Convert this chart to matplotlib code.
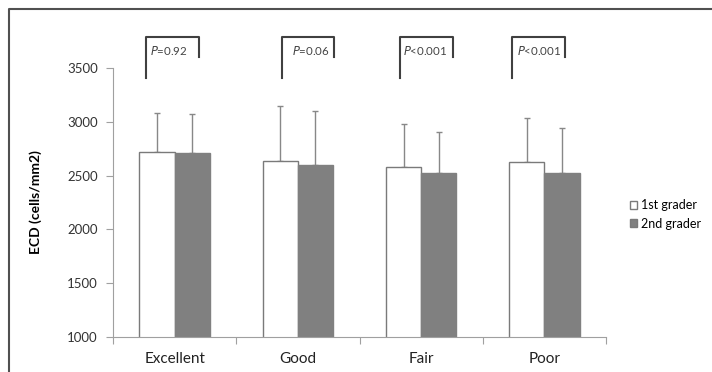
import matplotlib
matplotlib.use("Agg")
import matplotlib.pyplot as plt
from matplotlib.lines import Line2D
import numpy as np

plt.rcParams['font.family'] = ['Lato', 'DejaVu Sans']

# data
categories = ['Excellent', 'Good', 'Fair', 'Poor']
first_mean = [2715, 2636, 2577, 2624]
first_sd = [370, 511, 400, 414]
second_mean = [2707, 2599, 2527, 2521]
second_sd = [363, 501, 381, 424]
p_signs = ['=', '=', '<', '<']
p_values = ['0.92', '0.06', '0.001', '0.001']

# bracket ends, relative to each category centre
br_left = [-0.23, -0.13, -0.17, -0.26]
br_right = [0.20, 0.29, 0.26, 0.17]
txt_x = [-0.20, 0.26, -0.15, -0.22]
txt_ha = ['left', 'right', 'left', 'left']

fig = plt.figure(figsize=(7.12, 3.72), dpi=100)
ax = fig.add_axes([113 / 712, 35 / 372, 493 / 712, 269 / 372])

x = np.arange(len(categories))
w = 0.285
grey = '#808080'
ax.bar(x - w / 2, first_mean, w, bottom=0, color='white', edgecolor='#7a7a7a', linewidth=1, label='1st grader', zorder=2)
ax.bar(x + w / 2, second_mean, w, bottom=0, color=grey, edgecolor=grey, linewidth=1, label='2nd grader', zorder=2)
ax.errorbar(x - w / 2, first_mean, yerr=[np.zeros(4), first_sd], fmt='none', ecolor='#888888', elinewidth=1, capsize=2.5, capthick=1, zorder=1)
ax.errorbar(x + w / 2, second_mean, yerr=[np.zeros(4), second_sd], fmt='none', ecolor='#888888', elinewidth=1, capsize=2.5, capthick=1, zorder=1)

ax.set_xlim(-0.5, 3.5)
ax.set_ylim(1000, 3500)
ax.set_yticks(np.arange(1000, 3501, 500))
ax.set_xticks(np.arange(-0.5, 3.6, 1))
ax.set_xticklabels([])
ax.set_xticks(x, minor=True)
ax.set_xticklabels(categories, minor=True, fontsize=11)
ax.tick_params(axis='x', which='minor', length=0, pad=11, labelcolor='#222222')
ax.tick_params(axis='x', which='major', length=5, color='#a0a0a0')
ax.tick_params(axis='y', length=5, color='#a0a0a0', labelsize=9.5, labelcolor='#333333', pad=6)
for s in ['top', 'right']:
    ax.spines[s].set_visible(False)
for s in ['left', 'bottom']:
    ax.spines[s].set_color('#a0a0a0')
ax.set_ylabel('ECD (cells/mm2)', fontweight='bold', fontsize=10, labelpad=18)

# significance brackets
for i in range(len(categories)):
    xl, xr = i + br_left[i], i + br_right[i]
    ax.plot([xl, xl, xr, xr], [3407, 3790, 3790, 3600], color='#404040', lw=1.5, clip_on=False)
    ax.text(i + txt_x[i], 3660, '$P$' + p_signs[i] + p_values[i], ha=txt_ha[i], va='center',
            fontsize=8.3, color='#444444')

leg = ax.legend(loc='upper left', bbox_to_anchor=(1.025, 0.555), frameon=False, fontsize=9,
                handlelength=0.6, handleheight=0.6, handletextpad=0.35, labelspacing=0.55)
for h in leg.legend_handles:
    h.set_edgecolor('#7a7a7a')

# outer frame (only top and left visible)
fig.add_artist(Line2D([9 / 712, 9 / 712, 1], [0, 1 - 9 / 372, 1 - 9 / 372], color='#505050', lw=1.5))

fig.savefig('out.png', dpi=100)
